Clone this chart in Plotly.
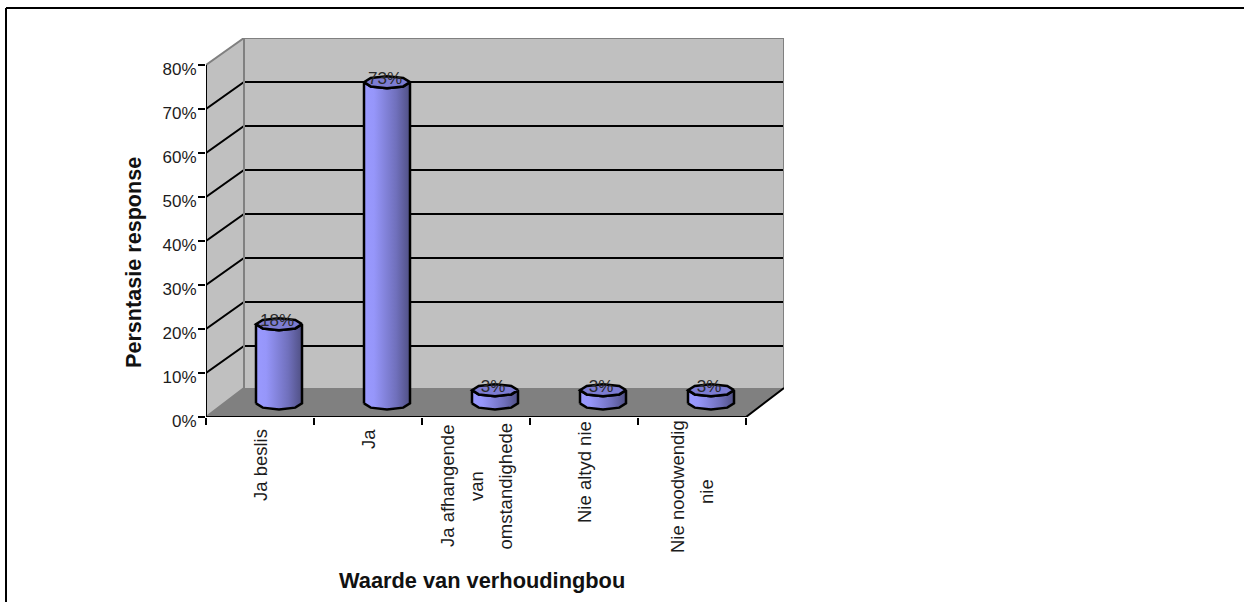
import numpy as np
import plotly.graph_objects as go

categories = ["Ja beslis", "Ja", "Ja afhangende<br>van<br>omstandighede", "Nie altyd nie", "Nie noodwendig<br>nie"]
values = [18, 73, 3, 3, 3]
value_labels = ["18%", "73%", "3%", "3%", "3%"]
y_ticks = [0, 10, 20, 30, 40, 50, 60, 70, 80]
y_labels = ["0%", "10%", "20%", "30%", "40%", "50%", "60%", "70%", "80%"]
x_title = "Waarde van verhoudingbou"
y_title = "Persntasie response"
label_tops = [[428], [428], [424, 470, 422], [420], [419, 478]]

W, H = 1244, 602
PL, PT, PW, PH = 206, 38, 578, 379
PX_X, PX_Y = 108.0, 4.4
DX = 38 / PX_X
WALL_DY = 27 / PX_Y
FLOOR_DY = 29 / PX_Y
N = len(categories)
FONT = "Liberation Sans"
TXT = "#1c1c1c"

fig = go.Figure()


def poly(xs, ys, fill=None, line=None, width=2):
    fig.add_trace(go.Scatter(
        x=xs, y=ys, mode="lines", cliponaxis=False, hoverinfo="skip", showlegend=False,
        fill="toself" if fill else None, fillcolor=fill,
        line=dict(color=line or "rgba(0,0,0,0)", width=width if line else 0),
    ))


top = y_ticks[-1]
# walls and floor
poly([DX, N + DX, N + DX, DX, DX], [FLOOR_DY, FLOOR_DY, top + WALL_DY, top + WALL_DY, FLOOR_DY], "#C0C0C0")
poly([0, DX, DX, 0, 0], [0, FLOOR_DY, top + WALL_DY, top, 0], "#C0C0C0")
poly([0, N, N + DX, DX, 0], [0, 0, FLOOR_DY, FLOOR_DY, 0], "#808080")
# gridlines
for v in y_ticks[1:-1]:
    poly([0, DX, N + DX], [v, v + WALL_DY, v + WALL_DY], None, "#000000", 2)
# wall edges
poly([0, DX, N + DX, N + DX], [top, top + WALL_DY, top + WALL_DY, FLOOR_DY], None, "#808080", 2)
poly([DX, DX, 0], [top + WALL_DY, FLOOR_DY, 0], None, "#808080", 2)
# axes
poly([0, 0], [0, top], None, "#000000", 2)
poly([0, N, N + DX], [0, 0, FLOOR_DY], None, "#000000", 2)

# columns
RX = 23 / PX_X
RY = 6 / PX_Y
GRAD = dict(type="horizontal", colorscale=[[0, "#9A9AFF"], [0.22, "#9696FA"], [0.7, "#7070BC"], [1, "#505084"]])
centers = [i + 0.5 + DX / 2 for i in range(N)]
base = FLOOR_DY / 2 - 0.2
fig.add_trace(go.Bar(x=centers, y=values, base=base, width=2 * RX, marker=dict(color="#7878CC", line=dict(width=0)),
                     showlegend=False, hovertemplate="%{y}%<extra></extra>"))
ang_n = 5
for c, v in zip(centers, values):
    t_y = base + v
    th_front = np.linspace(np.pi, 2 * np.pi, ang_n)
    bx = c + RX * np.cos(th_front)
    by = base + RY * np.sin(th_front)
    tx = c + RX * np.cos(th_front[::-1])
    ty = t_y + RY * np.sin(th_front[::-1])
    xs = np.concatenate([bx, tx, bx[:1]])
    ys = np.concatenate([by, ty, by[:1]])
    fig.add_trace(go.Scatter(x=xs, y=ys, mode="lines", fill="toself", fillgradient=GRAD, cliponaxis=False,
                             line=dict(color="#000000", width=2.5), hoverinfo="skip", showlegend=False))
    th = np.linspace(0, 2 * np.pi, 2 * ang_n - 1)
    poly(c + RX * np.cos(th), t_y + RY * np.sin(th), "#7C7CD2", "#000000", 2.5)

# value labels
fig.add_trace(go.Scatter(x=[c - 2 / PX_X for c in centers], y=[base + v + 2 / PX_Y for v in values], mode="text",
                         text=value_labels, textposition="middle center", cliponaxis=False,
                         textfont=dict(family=FONT, size=17, color="#2a2a2a"), hoverinfo="skip", showlegend=False))

fig.update_xaxes(range=[0, PW / PX_X], showgrid=False, zeroline=False, showline=False,
                 tickmode="array", tickvals=list(range(N + 1)), ticktext=[""] * (N + 1),
                 ticks="outside", ticklen=7, tickwidth=2, tickcolor="#000000")
fig.update_yaxes(range=[0, PH / PX_Y], showgrid=False, zeroline=False, showline=False,
                 tickmode="array", tickvals=y_ticks, ticktext=y_labels,
                 ticks="outside", ticklen=7, tickwidth=2, tickcolor="#000000",
                 ticklabelshift=4, ticklabelstandoff=-2,
                 tickfont=dict(family=FONT, size=17, color=TXT))

annos = []
for i, (cat, tops) in enumerate(zip(categories, label_tops)):
    lines = cat.split("<br>")
    for j, (ln, tp) in enumerate(zip(lines, tops)):
        annos.append(dict(text=ln, x=i + 0.5, xref="x", y=1 - (tp - PT) / PH, yref="paper",
                          xshift=(j - (len(lines) - 1) / 2) * 29, textangle=-90, showarrow=False,
                          xanchor="center", yanchor="top", borderpad=0,
                          font=dict(family=FONT, size=18.5, color=TXT)))
annos.append(dict(text=f"<b>{x_title}</b>", x=(482 - PL) / PW, xref="paper", y=1 - (580 - PT) / PH, yref="paper",
                  showarrow=False, xanchor="center", yanchor="middle", font=dict(family=FONT, size=21.8, color="#111111")))
annos.append(dict(text=f"<b>{y_title}</b>", x=(133 - PL) / PW, xref="paper", y=1 - (263 - PT) / PH, yref="paper",
                  textangle=-90, showarrow=False, xanchor="center", yanchor="middle",
                  font=dict(family=FONT, size=21.6, color="#111111")))


def px(x):
    return (x - PL) / PW


def py(y):
    return 1 - (y - PT) / PH


frame = dict(type="line", xref="paper", yref="paper", line=dict(color="#000000", width=2))
shapes = [dict(frame, x0=px(6), x1=px(W), y0=py(8), y1=py(8)), dict(frame, x0=px(6), x1=px(6), y0=py(8), y1=py(H))]

fig.update_layout(width=W, height=H, margin=dict(l=PL, r=W - PL - PW, t=PT, b=H - PT - PH),
                  paper_bgcolor="#FFFFFF", plot_bgcolor="rgba(0,0,0,0)", showlegend=False,
                  annotations=annos, shapes=shapes, font=dict(family=FONT))
fig.write_html("out.html", config=dict(displayModeBar=False),
               post_script="document.body.style.margin='0';document.body.style.overflow='hidden';")
